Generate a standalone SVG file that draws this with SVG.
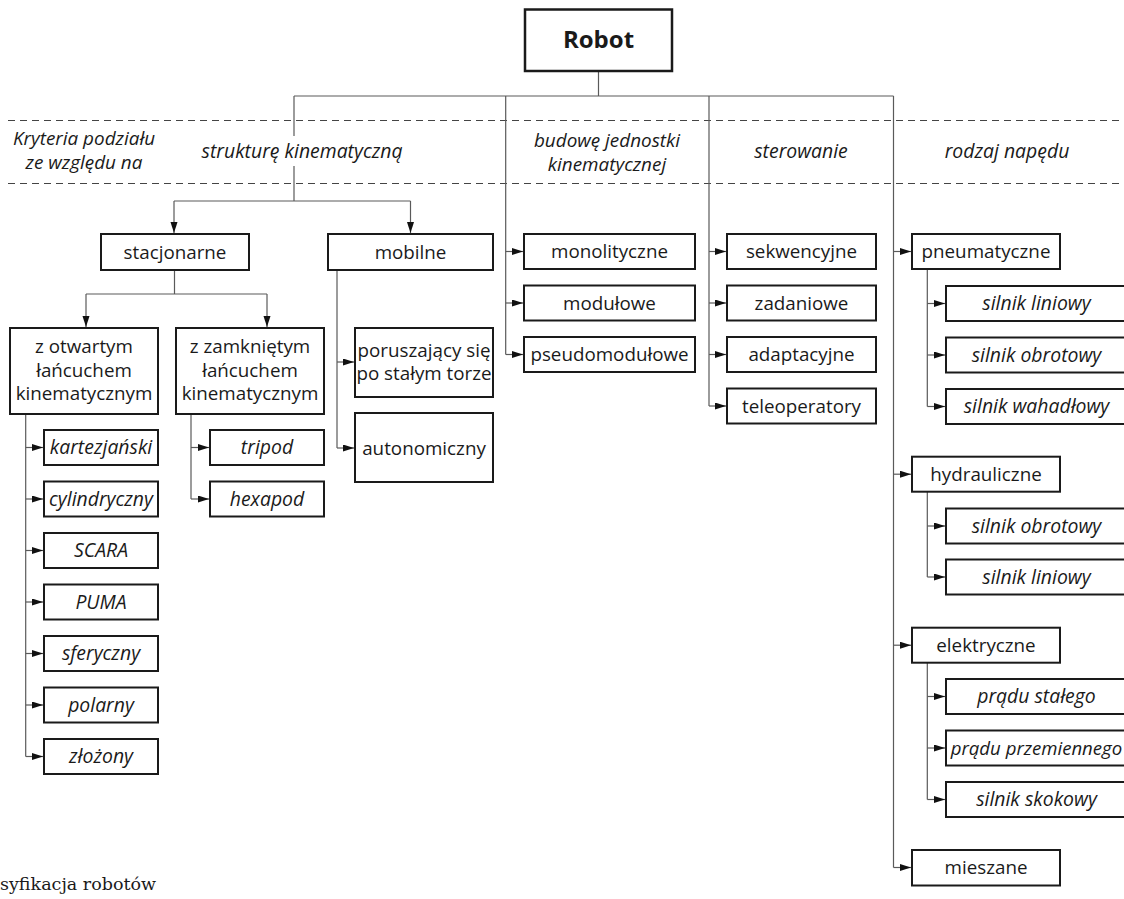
<svg xmlns="http://www.w3.org/2000/svg" width="1124" height="899" viewBox="0 0 1124 899">
<defs>
<style>
.box{fill:#fff;stroke:#1a1a1a;stroke-width:2}
.t{font-family:"Open Sans","Noto Sans",sans-serif;font-size:18.8px;fill:#1a1a1a;text-anchor:middle}
.i{font-style:italic;font-size:19.4px}
.h2{font-size:18.9px}
.c{fill:none;stroke:#5a5a5a;stroke-width:1.2}
.d{fill:none;stroke:#444;stroke-width:1;stroke-dasharray:7 5}
</style>
<marker id="ar" markerUnits="userSpaceOnUse" markerWidth="12" markerHeight="8" refX="11" refY="3.5" orient="auto">
<path d="M0,0 L11,3.5 L0,7 z" fill="#111"/>
</marker>
</defs>
<rect width="1124" height="899" fill="#fff"/>

<g id="criteria">
<path class="d" d="M8 120.5 H1124 M8 183.5 H1124"/>
<text class="t i h2" x="84" y="144.5">Kryteria podziału<tspan x="84" dy="24">ze względu na</tspan></text>
<text class="t i" x="302" y="158">strukturę kinematyczną</text>
<text class="t i h2" x="607" y="146.5">budowę jednostki<tspan x="607" dy="24">kinematycznej</tspan></text>
<text class="t i" x="801" y="158">sterowanie</text>
<text class="t i" x="1007" y="158">rodzaj napędu</text>
</g>

<g id="connectors">
<path class="c" d="M598.5 71 V96 M294 96 H893.5 M294 96 V136 M294 166 V201 M505.7 96 V354.5 M709 96 V406 M893.5 96 V867.5"/>
<path class="c" d="M174 201 H410.5"/>
<path class="c" marker-end="url(#ar)" d="M174 201 V233"/>
<path class="c" marker-end="url(#ar)" d="M410.5 201 V233"/>
<path class="c" d="M174.5 270 V294 M86 294 H267"/>
<path class="c" marker-end="url(#ar)" d="M86 294 V327"/>
<path class="c" marker-end="url(#ar)" d="M267 294 V327"/>
<path class="c" d="M25.7 414 V756.5"/>
<path class="c" marker-end="url(#ar)" d="M25.7 447.5 H43"/>
<path class="c" marker-end="url(#ar)" d="M25.7 499 H43"/>
<path class="c" marker-end="url(#ar)" d="M25.7 550.5 H43"/>
<path class="c" marker-end="url(#ar)" d="M25.7 602 H43"/>
<path class="c" marker-end="url(#ar)" d="M25.7 653.5 H43"/>
<path class="c" marker-end="url(#ar)" d="M25.7 705 H43"/>
<path class="c" marker-end="url(#ar)" d="M25.7 756.5 H43"/>
<path class="c" d="M191 414 V499"/>
<path class="c" marker-end="url(#ar)" d="M191 447.5 H209"/>
<path class="c" marker-end="url(#ar)" d="M191 499 H209"/>
<path class="c" d="M337 270 V448"/>
<path class="c" marker-end="url(#ar)" d="M337 362 H354"/>
<path class="c" marker-end="url(#ar)" d="M337 448 H354"/>
<path class="c" marker-end="url(#ar)" d="M505.7 251.5 H523"/>
<path class="c" marker-end="url(#ar)" d="M505.7 303 H523"/>
<path class="c" marker-end="url(#ar)" d="M505.7 354.5 H523"/>
<path class="c" marker-end="url(#ar)" d="M709 251.5 H726"/>
<path class="c" marker-end="url(#ar)" d="M709 303 H726"/>
<path class="c" marker-end="url(#ar)" d="M709 354.5 H726"/>
<path class="c" marker-end="url(#ar)" d="M709 406 H726"/>
<path class="c" marker-end="url(#ar)" d="M893.5 251.5 H911"/>
<path class="c" marker-end="url(#ar)" d="M893.5 474.2 H911"/>
<path class="c" marker-end="url(#ar)" d="M893.5 645.2 H911"/>
<path class="c" marker-end="url(#ar)" d="M893.5 867.5 H911"/>
<path class="c" d="M927.3 269 V406.5 M927.3 491.7 V577 M927.3 662.7 V799.5"/>
<path class="c" marker-end="url(#ar)" d="M927.3 303.5 H945"/>
<path class="c" marker-end="url(#ar)" d="M927.3 355 H945"/>
<path class="c" marker-end="url(#ar)" d="M927.3 406.5 H945"/>
<path class="c" marker-end="url(#ar)" d="M927.3 526 H945"/>
<path class="c" marker-end="url(#ar)" d="M927.3 577 H945"/>
<path class="c" marker-end="url(#ar)" d="M927.3 696.5 H945"/>
<path class="c" marker-end="url(#ar)" d="M927.3 748 H945"/>
<path class="c" marker-end="url(#ar)" d="M927.3 799.5 H945"/>
</g>

<g id="robot"><rect class="box" x="525" y="9.5" width="147" height="61.5" style="stroke-width:2.5"/><text class="t" x="598.5" y="48" style="font-weight:700;font-size:24px">Robot</text></g>

<g id="stacjonarne"><rect class="box" x="101" y="234" width="148" height="36"/><text class="t" x="175" y="258.5">stacjonarne</text></g>
<g id="mobilne"><rect class="box" x="328" y="234" width="165" height="36"/><text class="t" x="410.5" y="258.5">mobilne</text></g>
<g id="otwarty"><rect class="box" x="10" y="328" width="148" height="86"/><text class="t" x="84" y="353">z otwartym<tspan x="84" dy="23.5">łańcuchem</tspan><tspan x="84" dy="23.5">kinematycznym</tspan></text></g>
<g id="zamkniety"><rect class="box" x="176" y="328" width="148" height="86"/><text class="t" x="250" y="353">z zamkniętym<tspan x="250" dy="23.5">łańcuchem</tspan><tspan x="250" dy="23.5">kinematycznym</tspan></text></g>
<g id="poruszajacy"><rect class="box" x="355" y="328" width="138" height="69"/><text class="t" x="424" y="356.5">poruszający się<tspan x="424" dy="23.5">po stałym torze</tspan></text></g>
<g id="autonomiczny"><rect class="box" x="355" y="413" width="138" height="69"/><text class="t" x="424" y="454.5">autonomiczny</text></g>

<g id="kartezjanski"><rect class="box" x="44" y="430" width="114" height="35"/><text class="t i" x="101" y="454">kartezjański</text></g>
<g id="cylindryczny"><rect class="box" x="44" y="481.5" width="114" height="35"/><text class="t i" x="101" y="505.5">cylindryczny</text></g>
<g id="scara"><rect class="box" x="44" y="533" width="114" height="35"/><text class="t i" x="101" y="557">SCARA</text></g>
<g id="puma"><rect class="box" x="44" y="584.5" width="114" height="35"/><text class="t i" x="101" y="608.5">PUMA</text></g>
<g id="sferyczny"><rect class="box" x="44" y="636" width="114" height="35"/><text class="t i" x="101" y="660">sferyczny</text></g>
<g id="polarny"><rect class="box" x="44" y="687.5" width="114" height="35"/><text class="t i" x="101" y="711.5">polarny</text></g>
<g id="zlozony"><rect class="box" x="44" y="739" width="114" height="35"/><text class="t i" x="101" y="763">złożony</text></g>
<g id="tripod"><rect class="box" x="210" y="430" width="114" height="35"/><text class="t i" x="267" y="454">tripod</text></g>
<g id="hexapod"><rect class="box" x="210" y="481.5" width="114" height="35"/><text class="t i" x="267" y="505.5">hexapod</text></g>

<g id="monolityczne"><rect class="box" x="524" y="234" width="171" height="35"/><text class="t" x="609.5" y="258">monolityczne</text></g>
<g id="modulowe"><rect class="box" x="524" y="285.5" width="171" height="35"/><text class="t" x="609.5" y="309.5">modułowe</text></g>
<g id="pseudomodulowe"><rect class="box" x="524" y="337" width="171" height="35"/><text class="t" x="609.5" y="361">pseudomodułowe</text></g>

<g id="sekwencyjne"><rect class="box" x="727" y="234" width="149" height="35"/><text class="t" x="801.5" y="258">sekwencyjne</text></g>
<g id="zadaniowe"><rect class="box" x="727" y="285.5" width="149" height="35"/><text class="t" x="801.5" y="309.5">zadaniowe</text></g>
<g id="adaptacyjne"><rect class="box" x="727" y="337" width="149" height="35"/><text class="t" x="801.5" y="361">adaptacyjne</text></g>
<g id="teleoperatory"><rect class="box" x="727" y="388.5" width="149" height="35"/><text class="t" x="801.5" y="412.5">teleoperatory</text></g>

<g id="pneumatyczne"><rect class="box" x="912" y="234" width="148" height="35"/><text class="t" x="986" y="258">pneumatyczne</text></g>
<g id="p-liniowy"><rect class="box" x="946" y="286" width="181" height="35"/><text class="t i" x="1036.5" y="310">silnik liniowy</text></g>
<g id="p-obrotowy"><rect class="box" x="946" y="337.5" width="181" height="35"/><text class="t i" x="1036.5" y="361.5">silnik obrotowy</text></g>
<g id="p-wahadlowy"><rect class="box" x="946" y="389" width="181" height="35"/><text class="t i" x="1036.5" y="413">silnik wahadłowy</text></g>
<g id="hydrauliczne"><rect class="box" x="912" y="456.7" width="148" height="35"/><text class="t" x="986" y="480.7">hydrauliczne</text></g>
<g id="h-obrotowy"><rect class="box" x="946" y="508.5" width="181" height="35"/><text class="t i" x="1036.5" y="532.5">silnik obrotowy</text></g>
<g id="h-liniowy"><rect class="box" x="946" y="559.5" width="181" height="35"/><text class="t i" x="1036.5" y="583.5">silnik liniowy</text></g>
<g id="elektryczne"><rect class="box" x="912" y="627.7" width="148" height="35"/><text class="t" x="986" y="651.7">elektryczne</text></g>
<g id="e-staly"><rect class="box" x="946" y="679" width="181" height="35"/><text class="t i" x="1036.5" y="703">prądu stałego</text></g>
<g id="e-przemienny"><rect class="box" x="946" y="730.5" width="181" height="35"/><text class="t i" x="1036.5" y="754.5" style="font-size:18.6px">prądu przemiennego</text></g>
<g id="e-skokowy"><rect class="box" x="946" y="782" width="181" height="35"/><text class="t i" x="1036.5" y="806">silnik skokowy</text></g>
<g id="mieszane"><rect class="box" x="912" y="850" width="148" height="35.5"/><text class="t" x="986" y="874">mieszane</text></g>

<text x="0" y="890" style="font-family:'DejaVu Serif','Liberation Serif',serif;font-size:17.5px;fill:#1a1a1a">syfikacja robotów</text>
</svg>
